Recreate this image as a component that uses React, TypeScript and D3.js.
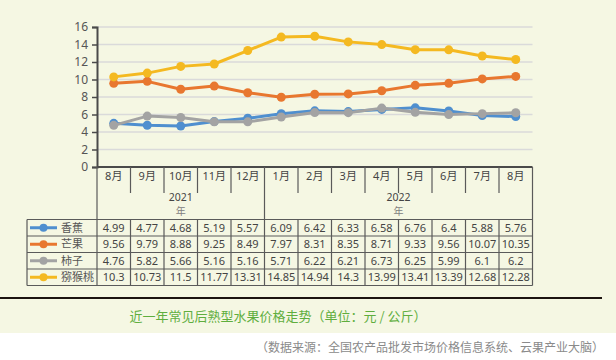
import React, { useEffect, useRef } from 'react';
import * as d3 from 'd3';

const months = ['8月', '9月', '10月', '11月', '12月', '1月', '2月', '3月', '4月', '5月', '6月', '7月', '8月'];
const years = [
  { label: '2021', span: 5 },
  { label: '2022', span: 8 },
];
const banana = [4.99, 4.77, 4.68, 5.19, 5.57, 6.09, 6.42, 6.33, 6.58, 6.76, 6.4, 5.88, 5.76];
const mango = [9.56, 9.79, 8.88, 9.25, 8.49, 7.97, 8.31, 8.35, 8.71, 9.33, 9.56, 10.07, 10.35];
const persimmon = [4.76, 5.82, 5.66, 5.16, 5.16, 5.71, 6.22, 6.21, 6.73, 6.25, 5.99, 6.1, 6.2];
const kiwi = [10.3, 10.73, 11.5, 11.77, 13.31, 14.85, 14.94, 14.3, 13.99, 13.41, 13.39, 12.68, 12.28];
const yTicks = [0, 2, 4, 6, 8, 10, 12, 14, 16];

const series = [
  { name: '香蕉', values: banana, color: '#4f8fcf' },
  { name: '芒果', values: mango, color: '#e8772f' },
  { name: '柿子', values: persimmon, color: '#a3a3a3' },
  { name: '猕猴桃', values: kiwi, color: '#f4b921' },
];

const title = '近一年常见后熟型水果价格走势（单位：元 / 公斤）';
const source = '（数据来源：全国农产品批发市场价格信息系统、云果产业大脑）';

export default function App() {
  const ref = useRef<SVGSVGElement>(null);

  useEffect(() => {
    const svg = d3.select(ref.current);
    svg.selectAll('*').remove();

    const W = 616;
    const left = 97;
    const right = 532.5;
    const top = 27;
    const axisY = 167;
    const headerBottom = 219.5;
    const rowH = 16.5;
    const legendLeft = 27;
    const font = '"Noto Sans", "Noto Sans CJK SC", sans-serif';
    const lineCol = '#5a5a5a';

    svg.append('rect').attr('width', W).attr('height', 333).attr('fill', '#f5f7e3');

    const x = d3.scaleBand<number>().domain(d3.range(months.length)).range([left, right]);
    const bw = x.bandwidth();
    const cx = (i: number) => (x(i) as number) + bw / 2;
    const y = d3.scaleLinear().domain([0, 16]).range([axisY, top]);

    // gridlines
    svg.append('g')
      .selectAll('line')
      .data(yTicks.filter((t) => t > 0))
      .enter()
      .append('line')
      .attr('x1', left)
      .attr('x2', right)
      .attr('y1', (d) => y(d))
      .attr('y2', (d) => y(d))
      .attr('stroke', '#dadada')
      .attr('stroke-width', 1.5);

    // y axis
    const yAxis = svg.append('g')
      .attr('transform', `translate(${left},0)`)
      .call(d3.axisLeft(y).tickValues(yTicks).tickSize(5).tickPadding(4));
    yAxis.select('.domain').attr('stroke', '#4a4a4a').attr('stroke-width', 2);
    yAxis.selectAll('.tick line').attr('stroke', '#4a4a4a').attr('stroke-width', 1.5);
    yAxis.selectAll('.tick text')
      .attr('fill', '#555')
      .style('font-family', font)
      .style('font-size', '12px');

    // table lines
    const tbl = svg.append('g').attr('stroke', lineCol).attr('stroke-width', 1.2).attr('fill', 'none');
    const rowsBottom = headerBottom + rowH * series.length;
    tbl.append('line').attr('x1', left).attr('x2', right).attr('y1', axisY).attr('y2', axisY)
      .attr('stroke', '#4a4a4a').attr('stroke-width', 2);
    tbl.append('line').attr('x1', left).attr('x2', left).attr('y1', axisY).attr('y2', rowsBottom);
    tbl.append('line').attr('x1', right).attr('x2', right).attr('y1', axisY).attr('y2', rowsBottom);
    tbl.append('line').attr('x1', legendLeft).attr('x2', legendLeft).attr('y1', headerBottom).attr('y2', rowsBottom);
    d3.range(series.length + 1).forEach((r) => {
      const yy = headerBottom + r * rowH;
      tbl.append('line').attr('x1', legendLeft).attr('x2', right).attr('y1', yy).attr('y2', yy);
    });
    // year boundaries
    let acc = 0;
    const yearPos = years.map((yr) => {
      const s = acc;
      acc += yr.span;
      return { ...yr, start: s, end: acc };
    });
    d3.range(1, months.length).forEach((i) => {
      const xx = x(i) as number;
      const isYear = yearPos.some((yp) => yp.start === i);
      tbl.append('line').attr('x1', xx).attr('x2', xx)
        .attr('y1', axisY)
        .attr('y2', isYear ? rowsBottom : 193);
      if (!isYear) {
        tbl.append('line').attr('x1', xx).attr('x2', xx).attr('y1', headerBottom).attr('y2', rowsBottom);
      }
    });

    // month labels
    svg.append('g')
      .selectAll('text')
      .data(months)
      .enter()
      .append('text')
      .attr('x', (d, i) => cx(i))
      .attr('y', 176)
      .attr('dy', '0.35em')
      .attr('text-anchor', 'middle')
      .attr('fill', '#444')
      .style('font-family', font)
      .style('font-size', '11px')
      .text((d) => d);

    // year labels
    yearPos.forEach((yp) => {
      const mx = ((x(yp.start) as number) + (x(yp.end - 1) as number) + bw) / 2;
      svg.append('text').attr('x', mx).attr('y', 197).attr('dy', '0.35em')
        .attr('text-anchor', 'middle').attr('fill', '#444')
        .style('font-family', font).style('font-size', '10.5px').text(yp.label);
      svg.append('text').attr('x', mx).attr('y', 211).attr('dy', '0.35em')
        .attr('text-anchor', 'middle').attr('fill', '#808080')
        .style('font-family', font).style('font-size', '10px').text('年');
    });

    // table rows
    series.forEach((s, r) => {
      const cy = headerBottom + r * rowH + rowH / 2;
      const g = svg.append('g');
      g.append('line').attr('x1', 30).attr('x2', 57).attr('y1', cy).attr('y2', cy)
        .attr('stroke', s.color).attr('stroke-width', 3);
      g.append('circle').attr('cx', 43.5).attr('cy', cy).attr('r', 4).attr('fill', s.color);
      g.append('text').attr('x', 61).attr('y', cy).attr('dy', '0.35em')
        .attr('fill', '#555').style('font-family', font).style('font-size', '11px').text(s.name);
      g.selectAll('text.v')
        .data(s.values)
        .enter()
        .append('text')
        .attr('class', 'v')
        .attr('x', (d, i) => cx(i))
        .attr('y', cy)
        .attr('dy', '0.35em')
        .attr('text-anchor', 'middle')
        .attr('fill', '#444')
        .style('font-family', font)
        .style('font-size', '11px')
        .text((d) => String(d));
    });

    // lines
    const line = d3.line<number>().x((d, i) => cx(i)).y((d) => y(d));
    series.forEach((s) => {
      const g = svg.append('g');
      g.append('path').datum(s.values).attr('d', line).attr('fill', 'none')
        .attr('stroke', s.color).attr('stroke-width', 3).attr('stroke-linejoin', 'round');
      g.selectAll('circle').data(s.values).enter().append('circle')
        .attr('cx', (d, i) => cx(i)).attr('cy', (d) => y(d)).attr('r', 4.5).attr('fill', s.color);
    });

    // bottom rule, title, source
    svg.append('line').attr('x1', 0).attr('x2', 602).attr('y1', 298).attr('y2', 298)
      .attr('stroke', '#1c1410').attr('stroke-width', 2);
    svg.append('text').attr('x', 278).attr('y', 316).attr('dy', '0.35em').attr('text-anchor', 'middle')
      .attr('fill', '#5fae3e').style('font-family', '"Noto Sans CJK SC", sans-serif').style('font-size', '13px')
      .text(title);
    svg.append('text').attr('x', 604).attr('y', 348).attr('dy', '0.35em').attr('text-anchor', 'end')
      .attr('fill', '#8a8a8a').style('font-family', '"Noto Sans CJK SC", sans-serif').style('font-size', '12px')
      .text(source);
  }, []);

  return (
    <svg ref={ref} width={616} height={360}
      style={{ position: 'fixed', left: 0, top: 0, background: '#ffffff' }} />
  );
}
